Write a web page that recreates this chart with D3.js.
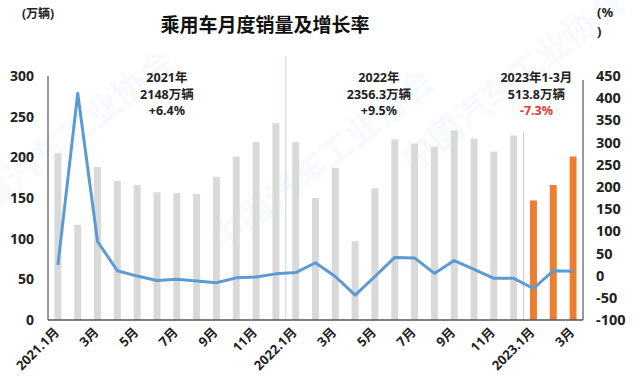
<!DOCTYPE html>
<html>
  <head>
    <meta charset="utf-8">
    <title>乘用车月度销量及增长率</title>
    <style>
      html, body {
        margin: 0;
        padding: 0;
        background: #fff;
      }
      text {
        font-family: "Noto Sans", "Noto Sans CJK SC", sans-serif;
        font-weight: bold;
      }
    </style>
  </head>
  <body>
    <script src="https://cdn.jsdelivr.net/npm/d3@7"></script>
    <div id="chart"></div>
    <script>

      // months 2021.1 - 2023.3
      var months = ['2021.1月','2月','3月','4月','5月','6月','7月','8月','9月','10月','11月','12月',
                    '2022.1月','2月','3月','4月','5月','6月','7月','8月','9月','10月','11月','12月',
                    '2023.1月','2月','3月']

      // sales, 万辆
      var sales = [205,117,188,171,166,157,156,155,176,201,219,242,
                   219,150,187,97,162,222,217,213,233,223,207,227,
                   147,166,201]

      // growth rate, %
      var growth = [24,411,77,11,-1,-11,-8,-12,-16,-5,-3,4,
                    7,29,-2,-44,-2,41,40,5,34,14,-6,-6,
                    -29,11,10]

      var leftTicks = [0,50,100,150,200,250,300]
      var rightTicks = [-100,-50,0,50,100,150,200,250,300,350,400,450]

      // year summaries
      var notes = [
        {lines: ['2021年', '2148万辆', '+6.4%'], at: 5.5},
        {lines: ['2022年', '2356.3万辆', '+9.5%'], at: 16.2},
        {lines: ['2023年1-3月', '513.8万辆', '-7.3%'], at: 24.15}
      ]

      var W = 640, H = 386
      var pL = 48, pR = 583, pT = 76, pB = 320

      var svg = d3.select('#chart').append('svg')
        .attr('width', W)
        .attr('height', H)

      var idx = d3.range(months.length)

      var x = d3.scaleBand()
        .domain(idx)
        .range([pL, pR])
        .paddingInner(0.65)
        .paddingOuter(0.33)

      var step = (pR - pL) / months.length
      function cx(i) { return pL + (i + 0.5) * step }

      var y = d3.scaleLinear().domain([0, 300]).range([pB, pT])
      var y2 = d3.scaleLinear().domain([-100, 450]).range([pB, pT])

      // faint watermark
      var wm = [[70, 150], [330, 170], [520, 90]]
      svg.selectAll('.wm')
        .data(wm)
        .enter()
        .append('text')
        .attr('transform', function(d){ return 'translate(' + d[0] + ',' + d[1] + ') rotate(-38)' })
        .attr('text-anchor', 'middle')
        .style('font-size', '34px')
        .style('fill', '#5b9bd5')
        .style('opacity', 0.04)
        .text('中国汽车工业协会')

      // title
      svg.append('text')
        .attr('x', 265)
        .attr('y', 32)
        .attr('text-anchor', 'middle')
        .style('font-size', '19px')
        .style('fill', '#111')
        .text('乘用车月度销量及增长率')

      svg.append('text')
        .attr('x', 22)
        .attr('y', 18)
        .style('font-size', '12px')
        .style('fill', '#222')
        .text('(万辆)')

      svg.append('text')
        .attr('x', 597)
        .attr('y', 17)
        .style('font-size', '13px')
        .style('fill', '#222')
        .text('(%')
      svg.append('text')
        .attr('x', 597)
        .attr('y', 36)
        .style('font-size', '13px')
        .style('fill', '#222')
        .text(')')

      // dividers between years
      svg.append('line')
        .attr('x1', pL + 12 * step).attr('x2', pL + 12 * step)
        .attr('y1', 56).attr('y2', pB)
        .attr('stroke', '#bdd7ee')
        .attr('stroke-width', 1)

      svg.append('line')
        .attr('x1', pL + 24 * step).attr('x2', pL + 24 * step)
        .attr('y1', 132).attr('y2', pB)
        .attr('stroke', '#c8c8c8')
        .attr('stroke-width', 1)

      // bars
      svg.append('g')
        .selectAll('rect')
        .data(idx)
        .enter()
        .append('rect')
        .attr('x', function(i){ return cx(i) - x.bandwidth() / 2 })
        .attr('y', function(i){ return y(sales[i]) })
        .attr('width', x.bandwidth())
        .attr('height', function(i){ return pB - y(sales[i]) })
        .attr('fill', function(i){ return i >= 24 ? '#ed7d31' : '#d9d9d9' })

      // growth line
      var line = d3.line()
        .x(function(i){ return cx(i) })
        .y(function(i){ return y2(growth[i]) })

      svg.append('path')
        .datum(idx)
        .attr('d', line)
        .attr('fill', 'none')
        .attr('stroke', '#5b9bd5')
        .attr('stroke-width', 3)
        .attr('stroke-linejoin', 'round')

      // axis lines
      svg.append('line')
        .attr('x1', pL).attr('x2', pL)
        .attr('y1', pT).attr('y2', pB)
        .attr('stroke', '#555').attr('stroke-width', 1.2)
      svg.append('line')
        .attr('x1', pR).attr('x2', pR)
        .attr('y1', 80).attr('y2', pB)
        .attr('stroke', '#555').attr('stroke-width', 1.2)
      svg.append('line')
        .attr('x1', pL).attr('x2', pR)
        .attr('y1', pB).attr('y2', pB)
        .attr('stroke', '#555').attr('stroke-width', 1.5)

      // tick labels
      svg.append('g')
        .selectAll('text')
        .data(leftTicks)
        .enter()
        .append('text')
        .attr('x', 34)
        .attr('y', function(d){ return y(d) })
        .attr('dy', '0.35em')
        .attr('text-anchor', 'end')
        .style('font-size', '14px')
        .style('fill', '#222')
        .text(function(d){ return d })

      svg.append('g')
        .selectAll('text')
        .data(rightTicks)
        .enter()
        .append('text')
        .attr('x', 596)
        .attr('y', function(d){ return y2(d) })
        .attr('dy', '0.35em')
        .style('font-size', '14.5px')
        .style('fill', '#222')
        .text(function(d){ return d })

      // month labels, every second month
      svg.append('g')
        .selectAll('text')
        .data(idx.filter(function(i){ return i % 2 == 0 }))
        .enter()
        .append('text')
        .attr('transform', function(i){ return 'translate(' + (cx(i) + 2) + ',333) rotate(-45)' })
        .attr('text-anchor', 'end')
        .style('font-size', '13px')
        .style('fill', '#222')
        .text(function(i){ return months[i] })

      // year notes
      notes.forEach(function(n){
        n.lines.forEach(function(t, k){
          svg.append('text')
            .attr('x', cx(n.at))
            .attr('y', 82 + k * 16.5)
            .attr('text-anchor', 'middle')
            .style('font-size', '12.5px')
            .style('fill', k == 2 && t[0] == '-' ? '#e03a32' : '#222')
            .text(t)
        })
      })

    </script>
  </body>
</html>
